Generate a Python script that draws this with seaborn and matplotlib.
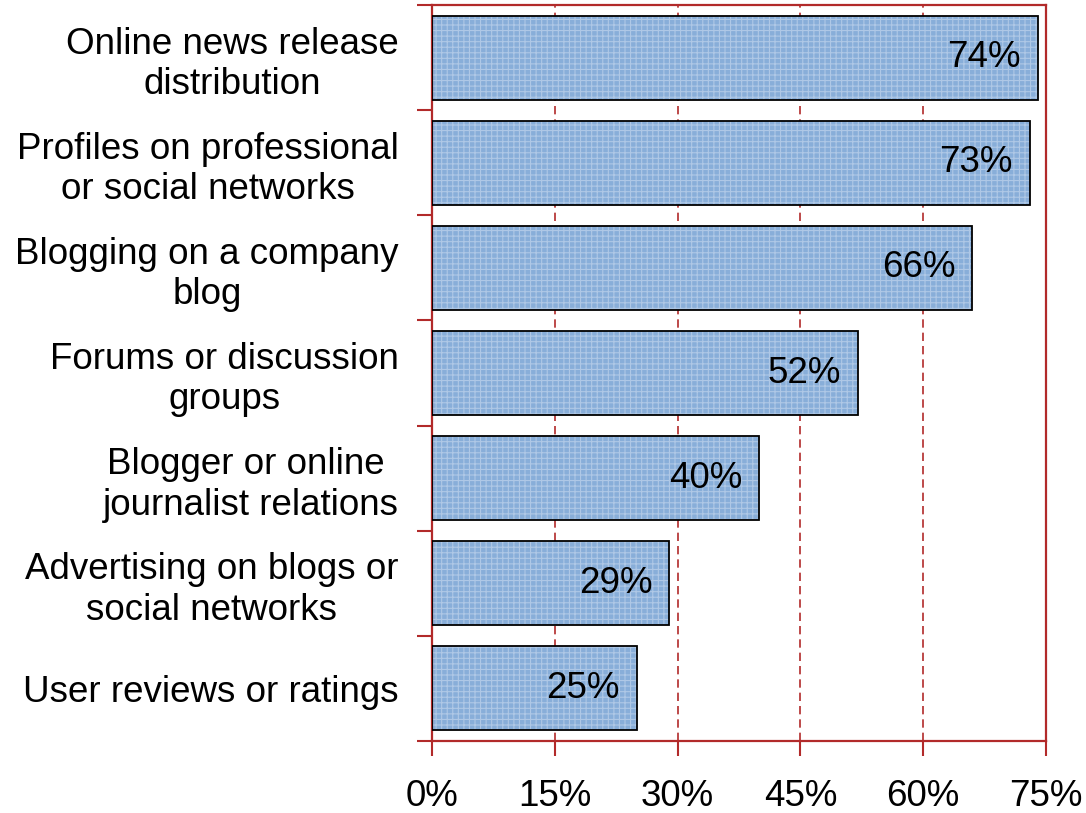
import matplotlib
matplotlib.use("Agg")
import matplotlib.pyplot as plt
import seaborn as sns
import pandas as pd
import numpy as np
from matplotlib.ticker import FixedLocator, FuncFormatter

categories = [
    "Online news release\ndistribution",
    "Profiles on professional\nor social networks",
    "Blogging on a company\nblog",
    "Forums or discussion\ngroups",
    "Blogger or online \njournalist relations",
    "Advertising on blogs or\nsocial networks",
    "User reviews or ratings",
]
values = [74, 73, 66, 52, 40, 29, 25]
x_ticks = [0, 15, 30, 45, 60, 75]

sns.set_style("white")
plt.rcParams["font.family"] = ["Liberation Sans", "DejaVu Sans"]
plt.rcParams["hatch.linewidth"] = 0.8

RED = "#B22A2A"
FILL = "#88AED9"
HATCH = "#AFC8E6"
FS = 26.5

df = pd.DataFrame({"cat": categories, "val": values})

fig = plt.figure(figsize=(10.86, 8.13), dpi=100)
ax = fig.add_axes([432/1086, 1 - 741/813, (1046-432)/1086, (741-5)/813])

ax.set_axisbelow(True)
for xv in x_ticks[1:-1]:
    ax.axvline(xv, color=RED, lw=1.2, ls=(0, (5, 3)), zorder=0)

sns.barplot(data=df, x="val", y="cat", orient="h", color=FILL, saturation=1,
            width=0.8, edgecolor=HATCH, linewidth=0, ax=ax, zorder=2)
for p in ax.patches:
    p.set_hatch("+++")
sns.barplot(data=df, x="val", y="cat", orient="h", fill=False,
            width=0.8, edgecolor="black", linewidth=1.3, ax=ax, zorder=3)

for i, v in enumerate(values):
    ax.text(v - 2.1, i, f"{v}%", ha="right", va="center", fontsize=FS, color="black", zorder=4)

ax.set_xlim(0, 75)
ax.set_ylim(len(categories) - 0.5, -0.5)
ax.set_xlabel("")
ax.set_ylabel("")

ax.xaxis.set_major_locator(FixedLocator(x_ticks))
ax.xaxis.set_major_formatter(FuncFormatter(lambda v, p: f"{int(v)}%"))
ax.tick_params(axis="x", which="major", direction="out", length=11, width=1.5,
               color=RED, labelsize=FS, labelcolor="black", pad=16, bottom=True)

bounds = np.arange(len(categories) + 1) - 0.5
ax.yaxis.set_major_locator(FixedLocator(bounds))
ax.yaxis.set_major_formatter(FuncFormatter(lambda v, p: ""))
ax.set_yticks(np.arange(len(categories)), categories, minor=True)
ax.tick_params(axis="y", which="major", direction="out", length=11, width=1.5, color=RED, left=True)
ax.tick_params(axis="y", which="minor", length=0, labelsize=FS, labelcolor="black", pad=24)
for lab in ax.get_yticklabels(minor=True):
    lab.set_multialignment("center")

for s in ax.spines.values():
    s.set_color(RED)
    s.set_linewidth(1.6)
    s.set_visible(True)

fig.savefig("out.png", dpi=100)
